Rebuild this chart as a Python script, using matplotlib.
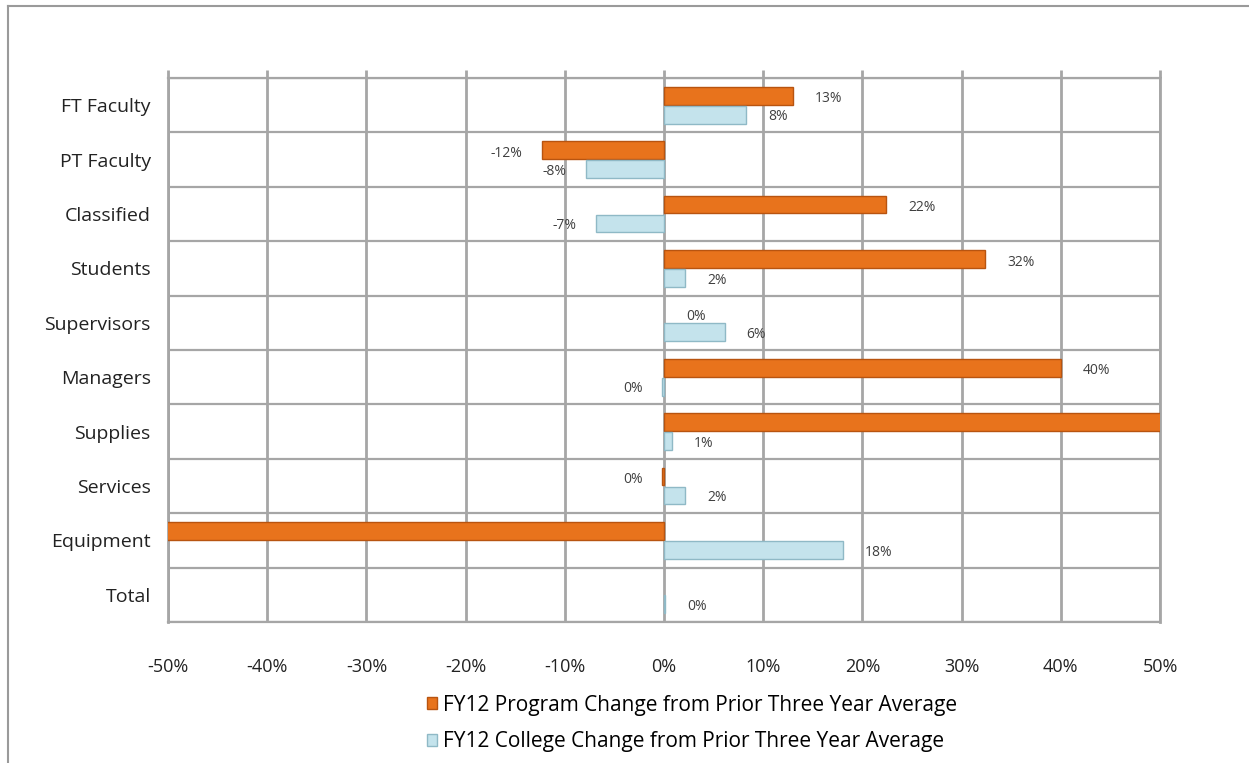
import numpy as np
from matplotlib import pyplot as plt
from matplotlib.lines import Line2D
from matplotlib.patches import Patch

# categories, top to bottom
categories = ['FT Faculty', 'PT Faculty', 'Classified', 'Students', 'Supervisors',
              'Managers', 'Supplies', 'Services', 'Equipment', 'Total']

# values in percent (Supplies / Equipment program run off the chart)
program = [13, -12.3, 22.4, 32.4, 0, 40, 65, -0.2, -75, 0]
college = [8.3, -7.9, -6.9, 2.1, 6.1, -0.2, 0.8, 2.1, 18, 0.1]

program_name = 'FY12 Program Change from Prior Three Year Average'
college_name = 'FY12 College Change from Prior Three Year Average'

xticks = np.arange(-50, 51, 10)

plt.rcParams['font.family'] = ['Open Sans', 'DejaVu Sans']

fig = plt.figure(figsize=(12.49, 7.63), dpi=100)
ax = fig.add_axes([168 / 1249, 141 / 763, 992 / 1249, 544 / 763])

grid_col = '#a6a6a6'
orange = '#e8731c'
orange_edge = '#b85410'
blue = '#c4e3ec'
blue_edge = '#8fb9c6'

y = np.arange(len(categories))
h = 0.33
ax.barh(y - h / 2 - 0.01, program, height=h, color=orange, edgecolor=orange_edge,
        linewidth=[1 if v != 0 else 0 for v in program], zorder=3, label=program_name)
ax.barh(y + h / 2 + 0.01, college, height=h, color=blue, edgecolor=blue_edge,
        linewidth=[1 if v != 0 else 0 for v in college], zorder=3, label=college_name)

# data labels
for i in range(len(categories)):
    for val, off in ((program[i], -h / 2), (college[i], h / 2)):
        if abs(val) > 50:
            continue
        if categories[i] == 'Total' and off < 0:
            continue
        txt = '%d%%' % round(val)
        if val >= 0:
            ax.annotate(txt, (val, i + off + 0.05), xytext=(16, 0),
                        textcoords='offset points', ha='left', va='center',
                        fontsize=10, color='#404040', zorder=4)
        else:
            ax.annotate(txt, (val, i + off + 0.05), xytext=(-14, 0),
                        textcoords='offset points', ha='right', va='center',
                        fontsize=10, color='#404040', zorder=4)

ax.set_xlim(-50, 50)
ax.set_ylim(len(categories) - 0.5, -0.5)
ax.set_xticks(xticks)
ax.set_xticklabels(['%d%%' % t for t in xticks], fontsize=13, color='#222222')
ax.set_yticks(y)
ax.set_yticklabels(categories, fontsize=14, color='#222222')
ax.set_yticks(np.arange(-0.5, len(categories), 1), minor=True)

ax.grid(axis='x', which='major', color=grid_col, linewidth=2, zorder=0)
ax.grid(axis='y', which='minor', color=grid_col, linewidth=1.6, zorder=0)
ax.tick_params(axis='x', which='major', bottom=False, top=True, length=6,
               width=2, color=grid_col, pad=20)
ax.tick_params(axis='y', which='both', left=False, pad=9)
for s in ax.spines.values():
    s.set_color(grid_col)
    s.set_linewidth(1.6)
ax.spines['left'].set_linewidth(2)
ax.spines['right'].set_linewidth(2)

# legend below
handles = [Patch(facecolor=orange, edgecolor=orange_edge), Patch(facecolor=blue, edgecolor=blue_edge)]
fig.legend(handles, [program_name, college_name], loc='upper left',
           bbox_to_anchor=(408 / 1249, 1 - 676 / 763), frameon=False, fontsize=15,
           handlelength=0.5, handleheight=0.5, handletextpad=0.3, labelspacing=0.75)

# outer chart border (clipped at right and bottom)
fig.add_artist(Line2D([8 / 1249, 8 / 1249], [0, 1 - 6 / 763], color='#9a9a9a', lw=1.5))
fig.add_artist(Line2D([8 / 1249, 1], [1 - 6 / 763, 1 - 6 / 763], color='#9a9a9a', lw=1.5))

fig.savefig('out.png', dpi=100)
